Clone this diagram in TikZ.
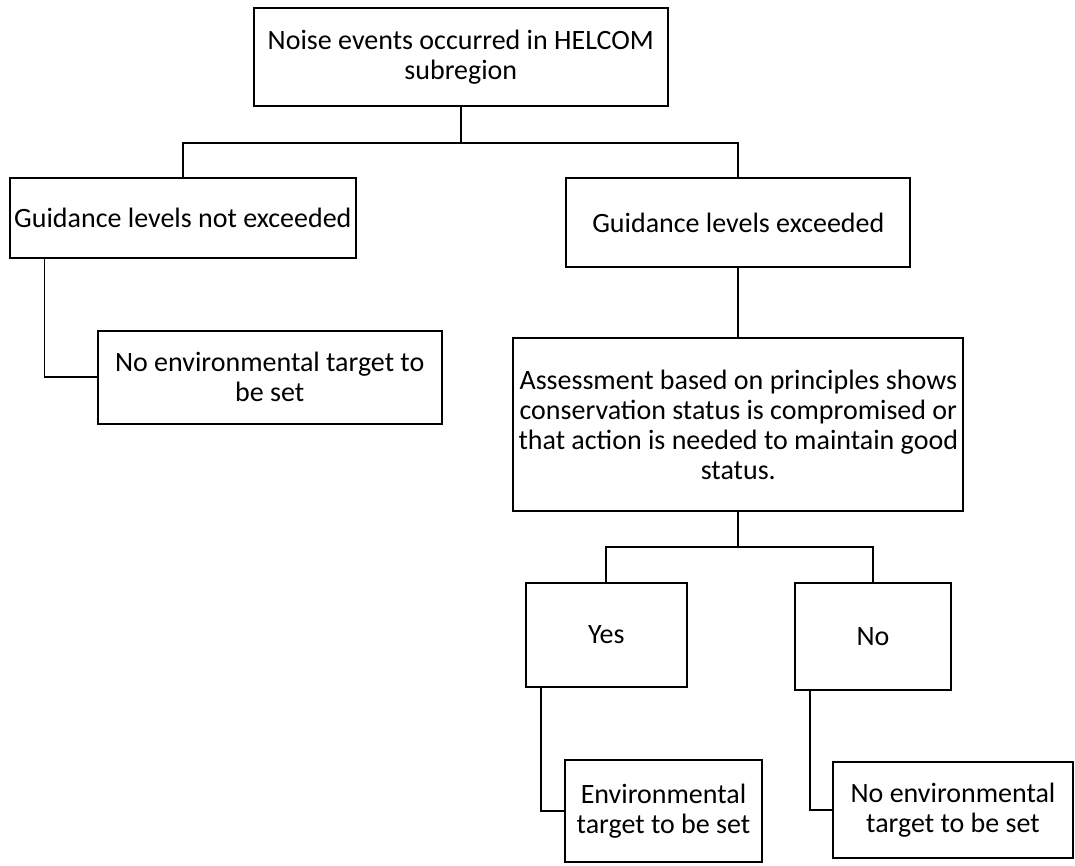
\documentclass[tikz,border=0pt]{standalone}
\usepackage{fontspec}
\setmainfont{Carlito}
\usepackage{tikz}
\tikzstyle{box}=[draw=black,line width=1.6pt,inner sep=0pt,align=center,font=\fontsize{21}{22.5}\selectfont]
\tikzstyle{link}=[draw=black,line width=1.3pt]

\begin{document}
\begin{tikzpicture}[x=0.75pt,y=-0.75pt]
        \useasboundingbox (0,0) rectangle (1075,865);
        \node[box,minimum width=310.3pt,minimum height=73.3pt] (noise) at (460.8,57.2) {Noise events occurred in HELCOM\\subregion};
        \node[box,minimum width=259.5pt,minimum height=60pt] (notexc) at (182.8,218.3) {Guidance levels not exceeded};
        \node[box,minimum width=258pt,minimum height=66.3pt] (exc) at (738.3,222.5) {Guidance levels exceeded};
        \node[box,minimum width=258pt,minimum height=70pt] (notgt1) at (269.7,377.3) {No environmental target to\\be set};
        \node[box,minimum width=337.5pt,minimum height=129.3pt] (assess) at (738.3,424.5) {Assessment based on principles shows\\conservation status is compromised or\\that action is needed to maintain good\\status.};
        \node[box,minimum width=120.5pt,minimum height=78pt] (yes) at (606.3,634.7) {Yes};
        \node[box,minimum width=117pt,minimum height=80.5pt] (no) at (873,636.3) {No};
        \node[box,minimum width=147.8pt,minimum height=76.5pt] (tgt) at (663.5,811) {Environmental\\target to be set};
        \node[box,minimum width=180pt,minimum height=72pt] (notgt2) at (953,809.8) {No environmental\\target to be set};

        \coordinate (j1) at (460.8,142.7);
        \coordinate (j2) at (738.3,546.7);
        \draw[link] (noise.south) -- (j1);
        \draw[link] (notexc.north) |- (j1) -| (exc.north);
        \draw[link] ([xshift=26.8pt]notexc.south west) |- (notgt1.west);
        \draw[link] (exc.south) -- (assess.north);
        \draw[link] (assess.south) -- (j2);
        \draw[link] (yes.north) |- (j2) -| (no.north);
        \draw[link] ([xshift=11.8pt]yes.south west) |- (tgt.west);
        \draw[link] ([xshift=12pt]no.south west) |- (notgt2.west);
\end{tikzpicture}
\end{document}
